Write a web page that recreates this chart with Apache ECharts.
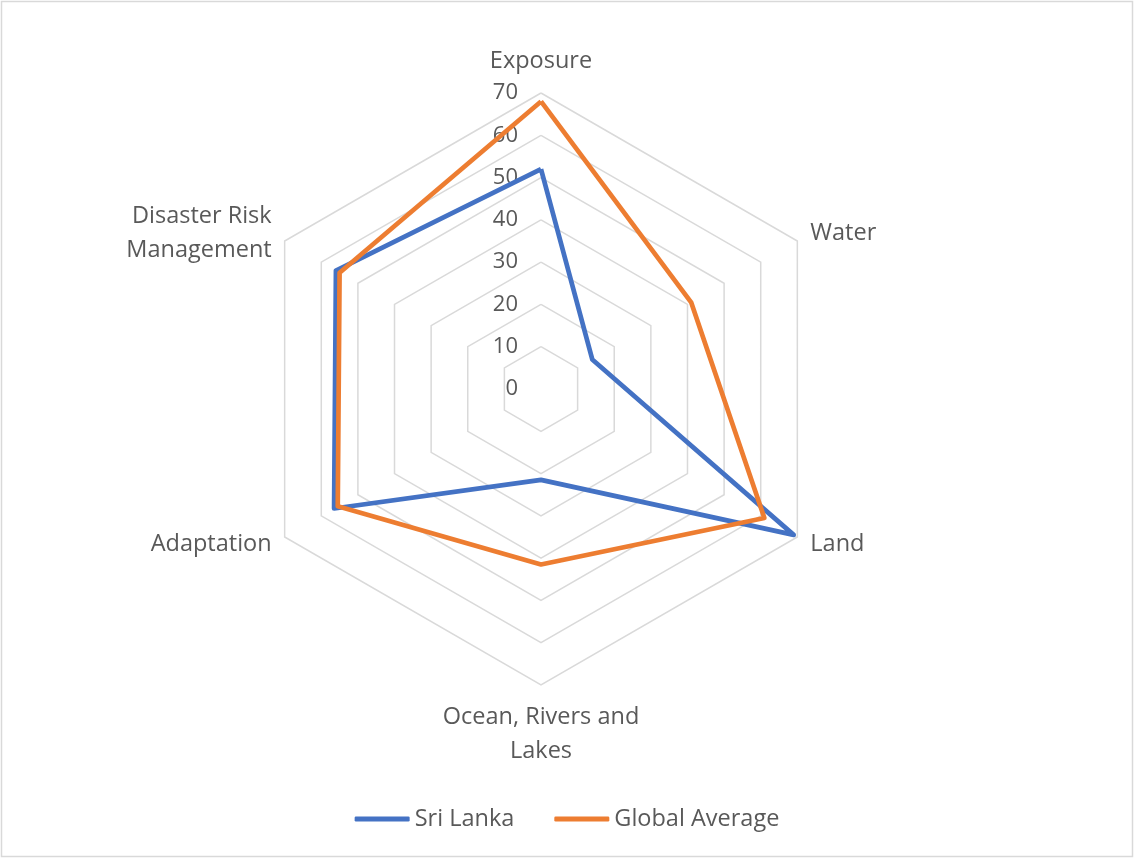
<!DOCTYPE html>
<html>
<head>
<meta charset="utf-8">
<script src="https://cdn.jsdelivr.net/npm/echarts@6/dist/echarts.min.js"></script>
<style>
html,body{margin:0;padding:0;background:#fff;}
#chart{width:1134px;height:858px;}
</style>
</head>
<body>
<div id="chart"></div>
<script>
// Indicators listed counter-clockwise from top (ECharts radar direction)
const indicatorNames = ['Exposure', 'Disaster Risk\nManagement', 'Adaptation', 'Ocean, Rivers and\nLakes', 'Land', 'Water'];
const sriLanka = [52, 56, 56.5, 21.5, 69, 14];
const globalAverage = [68, 55, 55.5, 41.5, 61, 41];
const tickLabels = [0, 10, 20, 30, 40, 50, 60, 70];
const axisMax = 70;
const axisStep = 10;

const textColor = '#595959';
const fontFamily = '"Open Sans", "Liberation Sans", sans-serif';
const cx = 541, cy = 389, R = 296;

const chart = echarts.init(document.getElementById('chart'), null, {renderer: 'canvas'});
chart.setOption({
  backgroundColor: '#ffffff',
  animation: false,
  textStyle: {fontFamily: fontFamily},
  graphic: [{
    type: 'rect',
    shape: {x: 1.5, y: 1.5, width: 1131, height: 855},
    style: {fill: 'none', stroke: '#D9D9D9', lineWidth: 1.5},
    silent: true
  }],
  legend: {
    bottom: 22,
    left: 'center',
    itemWidth: 55,
    itemHeight: 5,
    itemGap: 40,
    icon: 'roundRect',
    textStyle: {color: textColor, fontSize: 23.5, fontFamily: fontFamily, padding: [0, 0, 0, 0]},
    data: ['Sri Lanka', 'Global Average']
  },
  radar: {
    center: [cx, cy],
    radius: R,
    shape: 'polygon',
    startAngle: 90,
    splitNumber: axisMax / axisStep,
    nameGap: 15,
    axisName: {color: textColor, fontSize: 23.5, fontFamily: fontFamily, lineHeight: 34},
    indicator: indicatorNames.map(n => ({name: n, min: 0, max: axisMax})),
    splitLine: {lineStyle: {color: '#D9D9D9', width: 1.5}},
    splitArea: {show: false},
    axisLine: {show: false},
    axisTick: {show: false},
    axisLabel: {show: false}
  },
  grid: {left: cx, top: cy - R, width: 0, height: R, containLabel: false},
  xAxis: {type: 'value', show: false},
  yAxis: {
    type: 'value', min: 0, max: axisMax, interval: axisStep,
    axisLine: {show: false}, axisTick: {show: false}, splitLine: {show: false},
    axisLabel: {color: textColor, fontSize: 22, fontFamily: fontFamily, margin: 23,
      formatter: v => tickLabels.includes(v) ? String(v) : ''}
  },
  series: [{
    type: 'radar',
    symbol: 'none',
    data: [
      {name: 'Sri Lanka', value: sriLanka,
       lineStyle: {color: '#4472C4', width: 4.7, join: 'round'}, itemStyle: {color: '#4472C4'}},
      {name: 'Global Average', value: globalAverage,
       lineStyle: {color: '#ED7D31', width: 4.7, join: 'round'}, itemStyle: {color: '#ED7D31'}}
    ]
  }]
});
</script>
</body>
</html>
